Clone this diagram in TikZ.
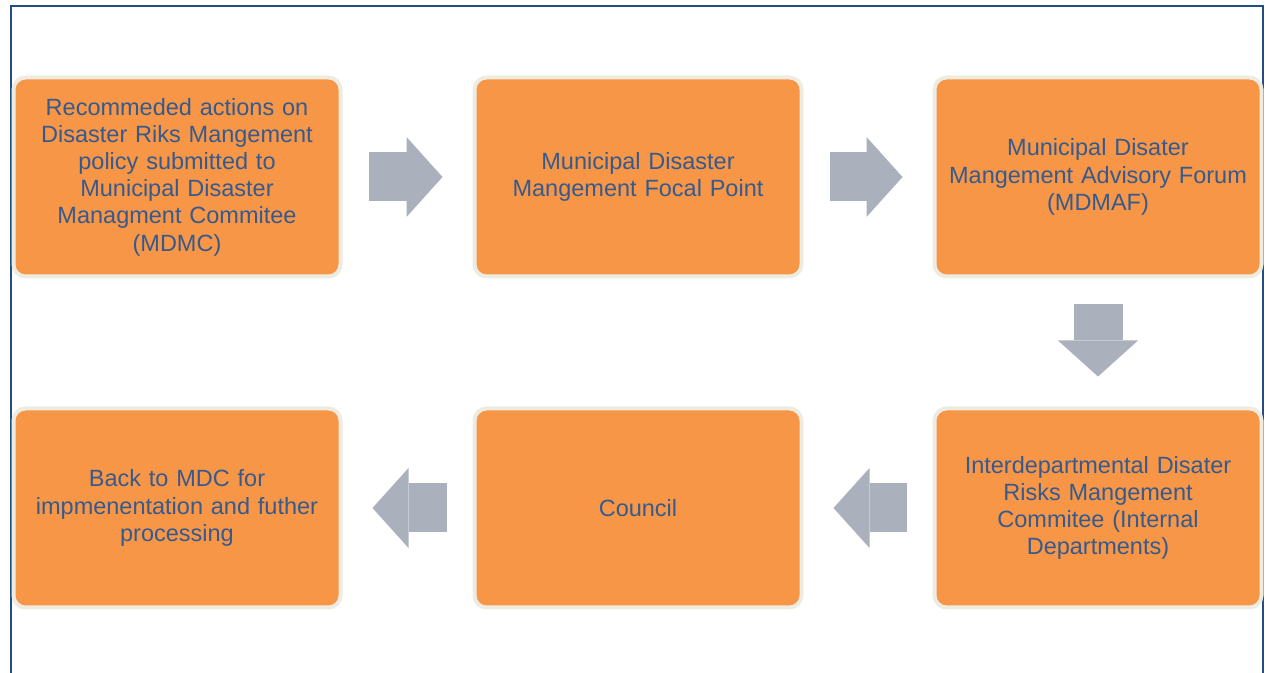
\documentclass[tikz,border=0pt]{standalone}
\usepackage{fontspec}
\setmainfont{Liberation Sans}
\usetikzlibrary{positioning,arrows.meta}
\definecolor{boxorange}{HTML}{F79646}
\definecolor{boxrim}{HTML}{EEECE1}
\definecolor{arrowgray}{HTML}{ABB0BD}
\definecolor{txtblue}{HTML}{365A8E}
\definecolor{framblue}{HTML}{244E82}
\tikzset{
  blockarrow/.style={line width=24.5pt, draw=arrowgray, -{Triangle[length=18pt, width=40pt, line width=0pt]}, shorten <=13pt, shorten >=15pt},
  stagebox/.style={draw=boxrim, line width=2pt, fill=boxorange, rounded corners=6pt, minimum width=163.5pt, minimum height=99.5pt, text width=160pt, inner sep=0pt, align=center, text=txtblue, font=\fontsize{11.75}{13.6}\selectfont}
}

\begin{document}
\begin{tikzpicture}[x=0.5pt, y=-0.5pt]
  \useasboundingbox (0,0) rectangle (1265,673);
  \fill[white] (0,0) rectangle (1265,673);
  \draw[framblue, line width=1.25pt] (11,673) |- (1263,6) -- (1263,673);
  \node[stagebox] (recom) at (177,177) {Recommeded actions on\\ Disaster Riks Mangement\\ policy submitted to\\ Municipal Disaster\\ Managment Commitee\\ (MDMC)};
  \node[stagebox] (focal) at (638,177) {Municipal Disaster\\ Mangement Focal Point};
  \node[stagebox] (forum) at (1098,177) {Municipal Disater\\ Mangement Advisory Forum\\ (MDMAF)};
  \node[stagebox] (interdep) at (1098,508) {Interdepartmental Disater\\ Risks Mangement\\ Commitee (Internal\\ Departments)};
  \node[stagebox] (council) at (638,508) {Council};
  \node[stagebox] (backmdc) at (177,508) {Back to MDC for\\ impmenentation and futher\\ processing};
  \draw[blockarrow] (recom) -- (focal);
  \draw[blockarrow] (focal) -- (forum);
  \draw[blockarrow] (forum) -- (interdep);
  \draw[blockarrow] (interdep) -- (council);
  \draw[blockarrow] (council) -- (backmdc);
\end{tikzpicture}
\end{document}
